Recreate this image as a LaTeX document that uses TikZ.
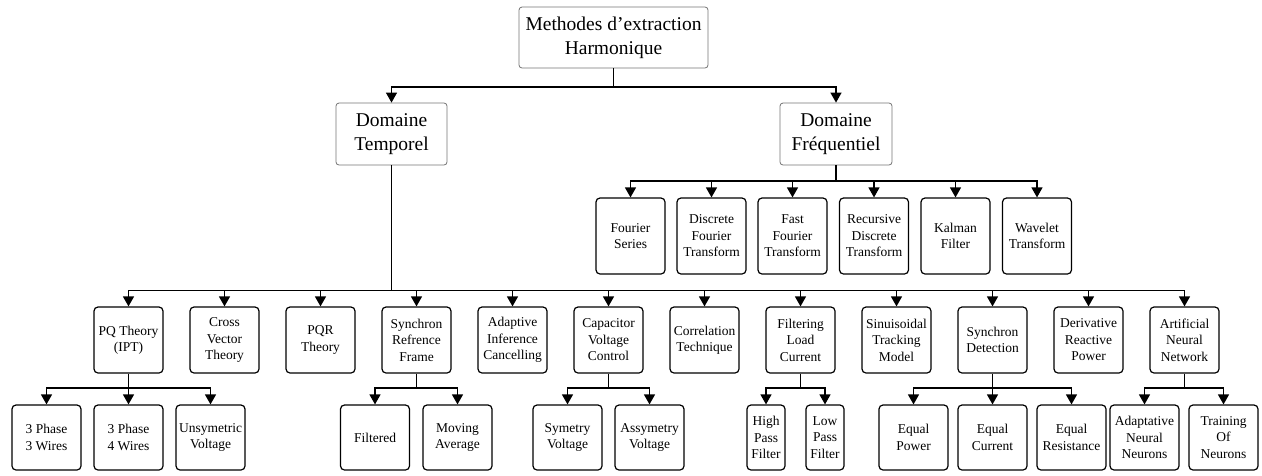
\documentclass[tikz,border=0pt]{standalone}
\usepackage{fontspec}
\setmainfont{Liberation Serif}
\usetikzlibrary{arrows.meta}
\begin{document}
\begin{tikzpicture}[x=1pt,y=-1pt,
  topbox/.style={draw=black!55,line width=0.8pt,rounded corners=3pt,align=center,inner sep=0pt,font=\fontsize{19.5}{24}\selectfont},
  leaf/.style={draw=black,line width=1.2pt,rounded corners=4pt,align=center,inner sep=0pt,minimum width=69pt,font=\fontsize{13.5}{16.5}\selectfont},
  freq/.style={leaf,minimum height=76pt},
  lvthree/.style={leaf,minimum height=66pt},
  lvfour/.style={leaf,minimum height=65pt},
  conn/.style={line width=1.3pt},
  thinconn/.style={line width=0.6pt},
  arr/.style={line width=1.3pt,-{Triangle[length=10pt,width=11pt]}}]
\useasboundingbox (0,0) rectangle (1262,475);
\coordinate (b0) at (0,87);
\coordinate (b1) at (0,181);
\coordinate (b2) at (0,290.7);
\coordinate (b3) at (0,388);

% level 1-2
\node[topbox,minimum width=189pt,minimum height=61pt] (root) at (613.5,37.5) {Methodes d’extraction\\Harmonique};
\node[topbox,minimum width=111pt,minimum height=62pt] (dt) at (391.5,134) {Domaine\\Temporel};
\node[topbox,minimum width=112pt,minimum height=62pt] (df) at (836,134) {Domaine\\Fréquentiel};

% frequency domain
\node[freq] (f1) at (630.5,236) {Fourier\\Series};
\node[freq] (f2) at (711.5,236) {Discrete\\Fourier\\Transform};
\node[freq] (f3) at (792.5,236) {Fast\\Fourier\\Transform};
\node[freq] (f4) at (874,236) {Recursive\\Discrete\\Transform};
\node[freq] (f5) at (955.5,236) {Kalman\\Filter};
\node[freq] (f6) at (1037,236) {Wavelet\\Transform};

% time domain level 3
\node[lvthree] (t1) at (128.5,340) {PQ Theory\\(IPT)};
\node[lvthree] (t2) at (224.5,340) {Cross\\Vector\\Theory};
\node[lvthree] (t3) at (320.5,340) {PQR\\Theory};
\node[lvthree] (t4) at (416.5,340) {Synchron\\Refrence\\Frame};
\node[lvthree] (t5) at (512.5,340) {Adaptive\\Inference\\Cancelling};
\node[lvthree] (t6) at (608.5,340) {Capacitor\\Voltage\\Control};
\node[lvthree] (t7) at (704.5,340) {Correlation\\Technique};
\node[lvthree] (t8) at (800.5,340) {Filtering\\Load\\Current};
\node[lvthree] (t9) at (896.5,340) {Sinuisoidal\\Tracking\\Model};
\node[lvthree] (t10) at (992.5,340) {Synchron\\Detection};
\node[lvthree] (t11) at (1088.5,340) {Derivative\\Reactive\\Power};
\node[lvthree] (t12) at (1184.5,340) {Artificial\\Neural\\Network};

% level 4
\node[lvfour] (p1) at (46.5,437.5) {3 Phase\\3 Wires};
\node[lvfour] (p2) at (128.5,437.5) {3 Phase\\4 Wires};
\node[lvfour] (p3) at (210.5,437.5) {Unsymetric\\Voltage};
\node[lvfour] (s1) at (375,437.5) {Filtered};
\node[lvfour] (s2) at (457.5,437.5) {Moving\\Average};
\node[lvfour] (c1) at (567.5,437.5) {Symetry\\Voltage};
\node[lvfour] (c2) at (649.5,437.5) {Assymetry\\Voltage};
\node[lvfour,minimum width=38pt] (l1) at (766,437.5) {High\\Pass\\Filter};
\node[lvfour,minimum width=38pt] (l2) at (825,437.5) {Low\\Pass\\Filter};
\node[lvfour] (e1) at (913.5,437.5) {Equal\\Power};
\node[lvfour] (e2) at (992.5,437.5) {Equal\\Current};
\node[lvfour] (e3) at (1071.5,437.5) {Equal\\Resistance};
\node[lvfour] (n1) at (1144.5,437.5) {Adaptative\\Neural\\Neurons};
\node[lvfour] (n2) at (1223.5,437.5) {Training\\Of\\Neurons};

% connectors level 1 -> 2
\draw[conn] (root.south) -- (root.south |- b0);
\foreach \c in {dt,df} \draw[arr] (root.south |- b0) -| (\c.north);

% frequency
\draw[conn] (df.south) -- (df.south |- b1);
\foreach \c in {f1,f2,f3,f4,f5,f6} \draw[arr] (df.south |- b1) -| (\c.north);

% time level 3
\draw[conn] (dt.south) -- (dt.south |- b2);
\foreach \c in {t1,t2,t3,t4,t5,t6,t7,t8,t9,t10,t11,t12} \draw[arr] (dt.south |- b2) -| (\c.north);

% level 4
\draw[thinconn] (t1.south) -- (t1.south |- b3);
\foreach \c in {p1,p2,p3} \draw[arr] (t1.south |- b3) -| (\c.north);
\draw[conn] (t4.south) -- (t4.south |- b3);
\foreach \c in {s1,s2} \draw[arr] (t4.south |- b3) -| (\c.north);
\draw[thinconn] (t6.south) -- (t6.south |- b3);
\foreach \c in {c1,c2} \draw[arr] (t6.south |- b3) -| (\c.north);
\draw[conn] (t8.south) -- (t8.south |- b3);
\foreach \c in {l1,l2} \draw[arr] (t8.south |- b3) -| (\c.north);
\draw[thinconn] (t10.south) -- (t10.south |- b3);
\foreach \c in {e1,e2,e3} \draw[arr] (t10.south |- b3) -| (\c.north);
\draw[conn] (t12.south) -- (t12.south |- b3);
\foreach \c in {n1,n2} \draw[arr] (t12.south |- b3) -| (\c.north);
\end{tikzpicture}
\end{document}
